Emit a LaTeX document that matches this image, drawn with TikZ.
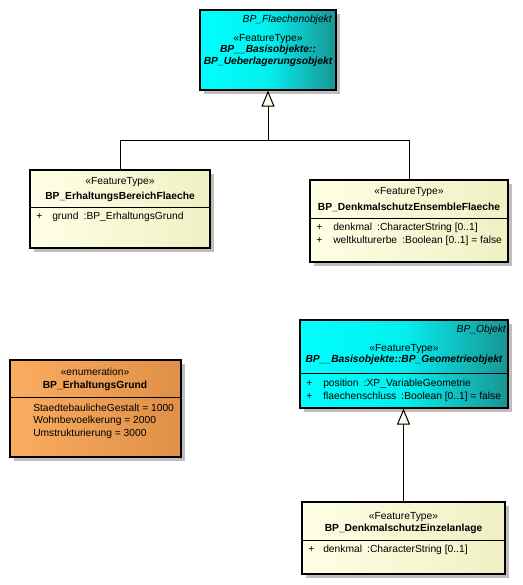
\documentclass[tikz,border=0pt]{standalone}
\usepackage{fontspec}
\setmainfont{Liberation Sans}
\usetikzlibrary{fit,arrows.meta,calc}
\definecolor{cyanL}{HTML}{00FFFF}
\definecolor{cyanR}{HTML}{1A9494}
\definecolor{yelL}{HTML}{FFFFE6}
\definecolor{yelR}{HTML}{F0F0C4}
\definecolor{orgL}{HTML}{FAAC60}
\definecolor{orgR}{HTML}{DE9048}
\definecolor{shadowc}{HTML}{BEBEBE}
\definecolor{trifill}{HTML}{FFF8EC}
\newcommand{\dfont}{\fontsize{7.7}{9}\selectfont}
\tikzset{
  x=0.75pt, y=-0.75pt,
  classbox/.style={draw=black, line width=0.9pt, inner sep=0pt},
  cyanbox/.style={classbox, left color=cyanL, right color=cyanR, middle color=cyanL!85!cyanR},
  yelbox/.style={classbox, left color=yelL, right color=yelR},
  orgbox/.style={classbox, left color=orgL, right color=orgR},
  shade/.style={fill=shadowc},
  txt/.style={font=\dfont, inner sep=0pt, text=black},
  btxt/.style={txt, font=\dfont\bfseries},
  bitxt/.style={txt, font=\dfont\bfseries\itshape},
  itxt/.style={txt, font=\dfont\itshape},
  sep/.style={draw=black, line width=0.75pt},
  conn/.style={draw=black, line width=0.75pt},
  gen/.style={conn, -{Triangle[open, length=16*0.75pt, width=13*0.75pt, fill=trifill]}},
}
\newcommand{\umlbox}[6]{%
  \coordinate (#1a) at (#2,#3);
  \coordinate (#1b) at (#4,#5);
  \fill[shade] (#2+4,#3+4) rectangle (#4+4,#5+4);
  \node[#6, fit=(#1a)(#1b)] (#1) {};
}
\begin{document}
\begin{tikzpicture}
\useasboundingbox (0,0) rectangle (522,585);
% boxes
\umlbox{top}{200}{10}{336}{90}{cyanbox}
\umlbox{erh}{30}{170}{210}{248}{yelbox}
\umlbox{ens}{310}{180}{508}{262}{yelbox}
\umlbox{enu}{10}{360}{181}{457}{orgbox}
\umlbox{geo}{300}{320}{508}{408}{cyanbox}
\umlbox{ein}{302}{502}{505}{574}{yelbox}

% top box texts
\node[itxt, anchor=east] (topp) at (332,20) {BP\_Flaechenobjekt};
\node[txt] (topst) at (268,39) {«FeatureType»};
\node[bitxt] (topn1) at (268,50) {BP\_\_Basisobjekte::};
\node[bitxt] (topn2) at (268,62) {BP\_Ueberlagerungsobjekt};

% erh
\node[txt] (erhst) at (120,182) {«FeatureType»};
\node[btxt] (erhn) at (120,197) {BP\_ErhaltungsBereichFlaeche};
\draw[sep] (30,207) -- (210,207);
\node[txt, anchor=west] (erhp) at (36,217) {+};
\node[txt, anchor=west] (erha) at (52,217) {grund\enspace:BP\_ErhaltungsGrund};

% ens
\node[txt] (ensst) at (409,192) {«FeatureType»};
\node[btxt] (ensn) at (409,207) {BP\_DenkmalschutzEnsembleFlaeche};
\draw[sep] (310,218) -- (508,218);
\node[txt, anchor=west] (ensp1) at (316,228) {+};
\node[txt, anchor=west] (ensa1) at (333,228) {denkmal\enspace:CharacterString [0..1]};
\node[txt, anchor=west] (ensp2) at (316,241) {+};
\node[txt, anchor=west] (ensa2) at (333,241) {weltkulturerbe\enspace:Boolean [0..1] = false};

% enu
\node[txt] (enust) at (95,372) {«enumeration»};
\node[btxt] (enun) at (95,386) {BP\_ErhaltungsGrund};
\draw[sep] (10,397) -- (181,397);
\node[txt, anchor=west] (enu1) at (33,408) {StaedtebaulicheGestalt = 1000};
\node[txt, anchor=west] (enu2) at (33,421) {Wohnbevoelkerung = 2000};
\node[txt, anchor=west] (enu3) at (33,434) {Umstrukturierung = 3000};

% geo
\node[itxt, anchor=east] (geop) at (506,330) {BP\_Objekt};
\node[txt] (geost) at (404,349) {«FeatureType»};
\node[bitxt] (geon) at (404,360) {BP\_\_Basisobjekte::BP\_Geometrieobjekt};
\draw[sep] (300,373) -- (508,373);
\node[txt, anchor=west] (geop1) at (306,384) {+};
\node[txt, anchor=west] (geoa1) at (323,384) {position\enspace:XP\_VariableGeometrie};
\node[txt, anchor=west] (geop2) at (306,397) {+};
\node[txt, anchor=west] (geoa2) at (323,397) {flaechenschluss\enspace:Boolean [0..1] = false};

% ein
\node[txt] (einst) at (403.5,517) {«FeatureType»};
\node[btxt] (einn) at (403.5,529) {BP\_DenkmalschutzEinzelanlage};
\draw[sep] (302,540) -- (505,540);
\node[txt, anchor=west] (einp) at (308,550) {+};
\node[txt, anchor=west] (eina) at (323,550) {denkmal\enspace:CharacterString [0..1]};

% connectors
\coordinate (jn) at (268,140);
\draw[conn] (erh.north) |- (jn);
\draw[conn] (ens.north) |- (jn);
\draw[gen] (jn) -- (top.south);
\draw[gen] (ein.north) -- (ein.north |- geo.south);
\end{tikzpicture}
\end{document}
